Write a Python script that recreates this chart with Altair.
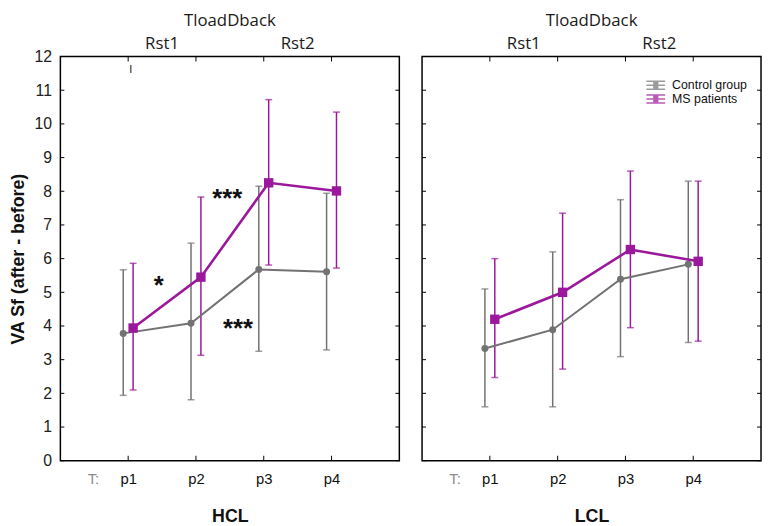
import altair as alt
import pandas as pd

# ---------------- data ----------------
periods = ["p1", "p2", "p3", "p4"]
groups = ["Control group", "MS patients"]
y_ticks = list(range(0, 13))

hcl_ctrl_mean = [3.78, 4.08, 5.68, 5.61]
hcl_ctrl_lo = [1.94, 1.81, 3.25, 3.29]
hcl_ctrl_hi = [5.67, 6.46, 8.15, 7.94]
hcl_ms_mean = [3.94, 5.45, 8.25, 8.01]
hcl_ms_lo = [2.10, 3.13, 5.81, 5.72]
hcl_ms_hi = [5.86, 7.83, 10.72, 10.35]

lcl_ctrl_mean = [3.33, 3.89, 5.39, 5.83]
lcl_ctrl_lo = [1.60, 1.60, 3.09, 3.51]
lcl_ctrl_hi = [5.10, 6.20, 7.75, 8.30]
lcl_ms_mean = [4.20, 5.00, 6.27, 5.92]
lcl_ms_lo = [2.47, 2.72, 3.95, 3.55]
lcl_ms_hi = [6.00, 7.35, 8.60, 8.30]

top_labels = ["Rst1", "Rst2"]
top_label_pos = [1.5, 3.5]
top_title = "TloadDback"

ann_text = ["*", "***", "***"]
ann_x = [1.45, 2.46, 2.62]
ann_y = [5.34, 7.92, 4.05]

colors = ["#727272", "#9b179b"]

# ---------------- layout constants ----------------
W, H = 343, 409
OFF = 0.073
FONT = "Liberation Sans"
TOPFONT = "Open Sans"

legend_symbol = ("M-1,-0.42H1M-1,0H1M-1,0.42H1M0,-0.42V0.42"
                 "M-0.28,-0.28H0.28M-0.28,-0.14H0.28M-0.28,0.14H0.28M-0.28,0.28H0.28")


def panel_df(cm, clo, chi, mm, mlo, mhi):
    rows = []
    for i, p in enumerate(periods):
        rows.append(dict(period=p, group=groups[0], x=i + 1 - OFF,
                         mean=cm[i], lo=clo[i], hi=chi[i]))
        rows.append(dict(period=p, group=groups[1], x=i + 1 + OFF,
                         mean=mm[i], lo=mlo[i], hi=mhi[i]))
    return pd.DataFrame(rows)


xscale = alt.Scale(domain=[0, 5], nice=False, zero=False)
yscale = alt.Scale(domain=[0, 12], nice=False, zero=False)


def make_panel(df, xtitle, show_y, annotate, legend):
    xaxis = alt.Axis(
        values=[0.48, 1, 2, 3, 4],
        labelExpr="datum.value < 1 ? 'T:' : 'p' + round(datum.value)",
        labelColor={"condition": {"test": "datum.value < 1", "value": "#8c8c8c"},
                    "value": "#111111"},
        labelFont=FONT, labelFontSize=15, labelPadding=11,
        labelOverlap=False, labelFlush=False, labelBound=False,
        ticks=False, domain=False, grid=False,
        title=xtitle, titleFont=FONT, titleFontSize=18, titleFontWeight="bold",
        titleColor="#111111", titlePadding=22,
    )
    if show_y:
        yaxis = alt.Axis(
            values=y_ticks, labelFont=FONT, labelFontSize=16, labelColor="#222222",
            labelPadding=9, labelFlush=False, ticks=False, domain=False, grid=False,
            title="VA Sf (after - before)", titleFont=FONT, titleFontSize=18,
            titleFontWeight="bold", titleColor="#111111", titlePadding=7,
        )
    else:
        yaxis = None

    def X(f):
        return alt.X(f, scale=xscale, axis=xaxis)

    def Y(f):
        return alt.Y(f, scale=yscale, axis=yaxis)

    if legend:
        leg = alt.Legend(title=None, orient="none", legendX=226, legendY=22,
                         labelFont=FONT, labelFontSize=12.5, labelColor="#111111",
                         symbolSize=361, symbolStrokeWidth=1.5, symbolType=legend_symbol,
                         clipHeight=14, rowPadding=0, labelOffset=6, padding=0)
    else:
        leg = None
    col = alt.Color("group:N", scale=alt.Scale(domain=groups, range=colors), legend=leg)
    base = alt.Chart(df)

    bars = base.mark_rule(strokeWidth=1.5).encode(x=X("x:Q"), y=Y("lo:Q"), y2="hi:Q", color=col)
    cap_lo = base.mark_tick(orient="horizontal", size=7, thickness=1.5).encode(
        x=X("x:Q"), y=Y("lo:Q"), color=col)
    cap_hi = base.mark_tick(orient="horizontal", size=7, thickness=1.5).encode(
        x=X("x:Q"), y=Y("hi:Q"), color=col)
    line = base.mark_line().encode(
        x=X("x:Q"), y=Y("mean:Q"), color=col, detail="group:N",
        strokeWidth=alt.StrokeWidth("group:N", scale=alt.Scale(domain=groups, range=[2, 2.6]),
                                    legend=None))
    circles = base.transform_filter(alt.datum.group == groups[0]).mark_circle(
        size=50, opacity=1).encode(x=X("x:Q"), y=Y("mean:Q"), color=col)
    squares = base.transform_filter(alt.datum.group == groups[1]).mark_square(
        size=90, opacity=1).encode(x=X("x:Q"), y=Y("mean:Q"), color=col)

    ytdf = pd.DataFrame({"v": y_ticks})
    xtdf = pd.DataFrame({"v": list(range(1, len(periods) + 1))})
    tick_style = dict(color="#000000", strokeWidth=1)
    yt_left = alt.Chart(ytdf).mark_rule(**tick_style).encode(
        y=Y("v:Q"), x=alt.value(0), x2=alt.value(4))
    yt_right = alt.Chart(ytdf).mark_rule(**tick_style).encode(
        y=Y("v:Q"), x=alt.value(W - 4), x2=alt.value(W))
    xt_top = alt.Chart(xtdf).mark_rule(**tick_style).encode(
        x=X("v:Q"), y=alt.value(0), y2=alt.value(5))
    xt_bot = alt.Chart(xtdf).mark_rule(**tick_style).encode(
        x=X("v:Q"), y=alt.value(H - 5), y2=alt.value(H))

    toplab = alt.Chart(pd.DataFrame({"t": top_labels, "pos": top_label_pos})).mark_text(
        font=TOPFONT, fontSize=17, color="#1a1a1a", baseline="middle").encode(
        x=X("pos:Q"), y=alt.value(-13), text="t:N")
    toptitle = alt.Chart(pd.DataFrame({"t": [top_title], "pos": [2.5]})).mark_text(
        font=TOPFONT, fontSize=17, color="#1a1a1a", baseline="middle").encode(
        x=X("pos:Q"), y=alt.value(-36), text="t:N")

    layers = [yt_left, yt_right, xt_top, xt_bot, bars, cap_lo, cap_hi, line, circles,
              squares, toplab, toptitle]

    if annotate:
        adf = pd.DataFrame({"t": ann_text, "ax": ann_x, "ay": ann_y})
        ann = alt.Chart(adf).mark_text(font=FONT, fontSize=26, fontWeight="bold",
                                       color="#111111", baseline="middle", dy=5).encode(
            x=X("ax:Q"), y=Y("ay:Q"), text="t:N")
        stray = alt.Chart(pd.DataFrame({"t": ["I"], "ax": [1.04], "ay": [11.6]})).mark_text(
            font=FONT, fontSize=11, color="#222222", baseline="middle").encode(
            x=X("ax:Q"), y=Y("ay:Q"), text="t:N")
        layers += [ann, stray]

    return alt.layer(*layers).properties(width=W, height=H)


left = make_panel(panel_df(hcl_ctrl_mean, hcl_ctrl_lo, hcl_ctrl_hi,
                           hcl_ms_mean, hcl_ms_lo, hcl_ms_hi), "HCL", True, True, False)
right = make_panel(panel_df(lcl_ctrl_mean, lcl_ctrl_lo, lcl_ctrl_hi,
                            lcl_ms_mean, lcl_ms_lo, lcl_ms_hi), "LCL", False, False, True)

chart = alt.hconcat(left, right, spacing=19).resolve_scale(color="independent").resolve_legend(
    color="independent").properties(
    padding={"left": 0, "top": 0, "right": 0, "bottom": 0},
    background="white",
).configure_view(stroke="#000000", strokeWidth=1.5)

chart.save("out.html", embed_options={"renderer": "svg", "actions": False})
